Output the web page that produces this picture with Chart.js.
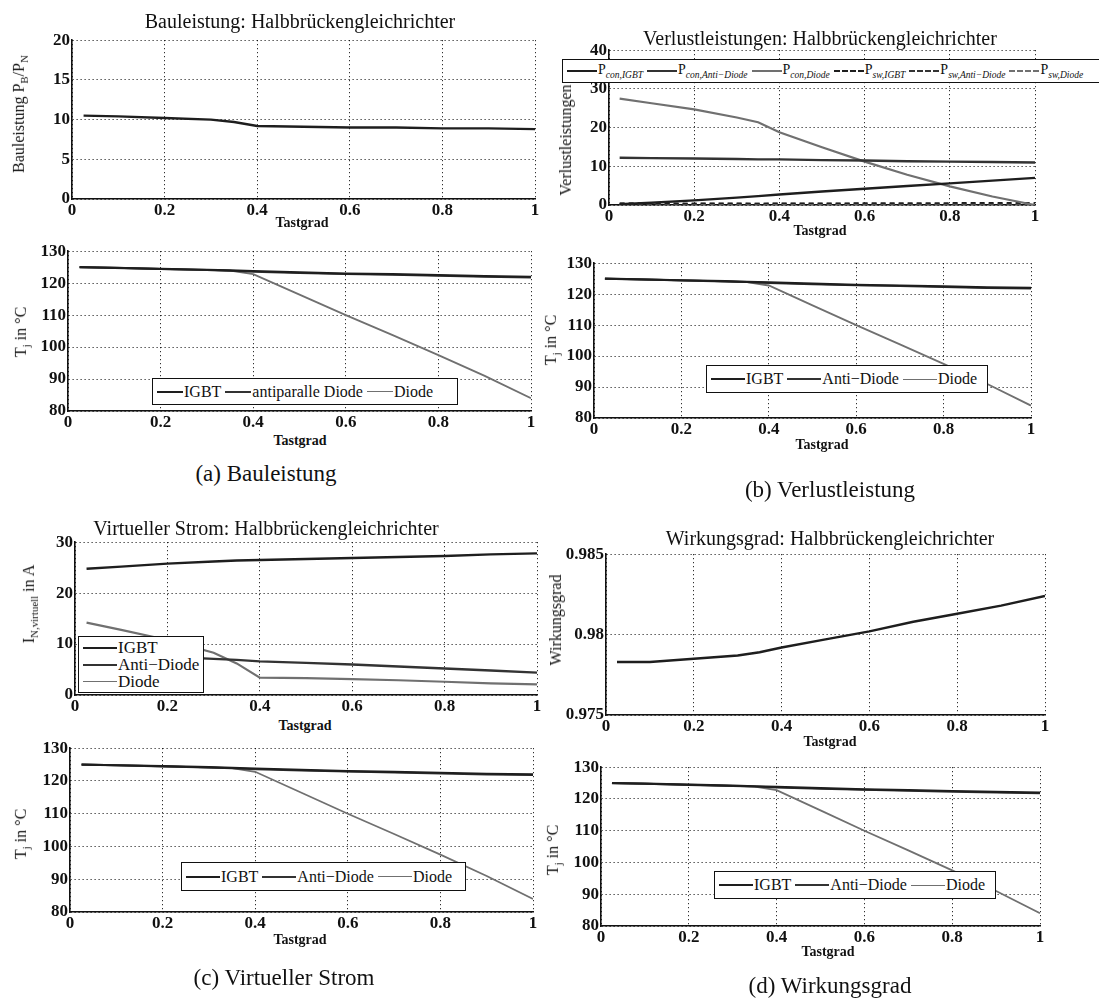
<!DOCTYPE html>
<html>
<head>
<meta charset="utf-8">
<script src="https://cdn.jsdelivr.net/npm/chart.js@4"></script>
<style>
  html, body { margin: 0; padding: 0; background: #fff; }
  body { width: 1099px; height: 1005px; position: relative; overflow: hidden; font-family: "Liberation Serif", "DejaVu Serif", serif; color: #111; }
  canvas { position: absolute; }
  .txt { position: absolute; white-space: nowrap; transform: translate(-50%, -50%); font-family: "Liberation Serif", serif; }
  .title { font-size: 20px; }
  .xlab { font-size: 14px; font-weight: bold; }
  .ylab { font-size: 16px; }
  .cap { font-size: 23px; }
  .legend { position: absolute; border: 1.5px solid #111; background: #fff; font-family: "Liberation Serif", serif; font-size: 16px; box-sizing: border-box; display: flex; align-items: center; padding: 0 4px; white-space: nowrap; }
  .legend.col { flex-direction: column; align-items: flex-start; justify-content: center; padding: 1px 4px; line-height: 17px; font-size: 17px; }
  .item { display: flex; align-items: center; margin-right: 4px; }
  .sample { display: inline-block; width: 34px; margin-right: 1px; border-top: 2px solid #222; }
  sub { font-size: 68%; }
</style>
</head>
<body>
<script>
// Tastgrad values (x axis) shared by all panels
const tastgrad = [0.025, 0.1, 0.2, 0.3, 0.35, 0.4, 0.5, 0.6, 0.7, 0.8, 0.9, 1.0];

// (a) Bauleistung P_B/P_N
const bauleistung = [10.5, 10.4, 10.2, 10.0, 9.7, 9.2, 9.1, 9.0, 9.0, 8.9, 8.9, 8.8];

// Junction temperatures in degC (same in all four lower panels)
const tjIgbt = [125, 124.8, 124.5, 124.2, 124.0, 123.8, 123.4, 123.0, 122.8, 122.5, 122.2, 122.0];
const tjAntiDiode = [125, 124.8, 124.4, 124.1, 123.9, 123.6, 123.2, 122.9, 122.6, 122.3, 122.0, 121.8];
const tjDiode = [125, 124.8, 124.5, 124.1, 123.9, 122.8, 116.4, 110.0, 103.8, 97.5, 91.0, 84.0];

// (b) Verlustleistungen
const pConIgbt = [0.2, 0.6, 1.2, 1.9, 2.3, 2.7, 3.5, 4.2, 4.9, 5.6, 6.3, 7.0];
const pConAntiDiode = [12.2, 12.1, 12.0, 11.9, 11.8, 11.8, 11.6, 11.5, 11.3, 11.2, 11.1, 11.0];
const pConDiode = [27.5, 26.3, 24.7, 22.6, 21.4, 18.8, 14.9, 11.2, 7.8, 4.8, 2.2, 0];
const pSwIgbt = [0.3, 0.3, 0.35, 0.4, 0.4, 0.45, 0.45, 0.5, 0.5, 0.55, 0.55, 0.6];
const pSwAntiDiode = [0.5, 0.5, 0.45, 0.45, 0.4, 0.4, 0.4, 0.35, 0.35, 0.3, 0.3, 0.3];
const pSwDiode = [0.1, 0.1, 0.1, 0.1, 0.1, 0.1, 0.1, 0.1, 0.1, 0.1, 0.1, 0.1];

// (c) Virtueller Strom in A
const iIgbt = [24.8, 25.2, 25.8, 26.2, 26.4, 26.5, 26.7, 26.9, 27.1, 27.3, 27.6, 27.8];
const iAntiDiode = [8.0, 7.8, 7.5, 7.1, 6.9, 6.6, 6.3, 6.0, 5.6, 5.2, 4.8, 4.4];
const iDiode = [14.2, 12.8, 10.8, 8.3, 6.2, 3.4, 3.3, 3.1, 2.9, 2.6, 2.3, 2.1];

// (d) Wirkungsgrad
const wirkungsgrad = [0.9783, 0.9783, 0.9785, 0.9787, 0.9789, 0.9792, 0.9797, 0.9802, 0.9808, 0.9813, 0.9818, 0.9824];

const DARK = '#1e1e1e';
const MID = '#333';
const LIGHT = '#707070';

const WY = 54;   // fixed y-axis width
const HX = 22;   // fixed x-axis height
const PT = 12;
const PR = 14;

// Put a text label on the page
function addText(html, x, y, cls, rotate) {
    const d = document.createElement('div');
    d.className = 'txt ' + cls;
    d.innerHTML = html;
    d.style.left = x + 'px';
    d.style.top = y + 'px';
    if (rotate) {
        d.style.transform = 'translate(-50%, -50%) rotate(-90deg)';
    }
    document.body.appendChild(d);
}

// Build one subplot so that its plot area lands on box {l, t, r, b}
function makePanel(box, series, yMin, yMax, yStep, yFmt) {
    const canvas = document.createElement('canvas');
    const w = box.r - box.l + WY + PR;
    const h = box.b - box.t + PT + HX;
    canvas.width = w;
    canvas.height = h;
    canvas.style.left = (box.l - WY) + 'px';
    canvas.style.top = (box.t - PT) + 'px';
    document.body.appendChild(canvas);

    const datasets = series.map(s => ({
        data: tastgrad.map((x, i) => ({ x: x, y: s.values[i] })),
        borderColor: s.color,
        borderWidth: s.width || 2,
        borderDash: s.dash || [],
        pointRadius: 0,
        showLine: true,
        tension: 0
    }));

    const tickFont = { family: '"Liberation Serif", serif', size: 17, weight: 'bold' };

    return new Chart(canvas, {
        type: 'scatter',
        data: { datasets: datasets },
        options: {
            responsive: false,
            animation: false,
            devicePixelRatio: 1,
            layout: { padding: { left: 0, top: PT, right: PR, bottom: 0 } },
            plugins: { legend: { display: false }, tooltip: { enabled: false } },
            scales: {
                x: {
                    type: 'linear',
                    min: 0,
                    max: 1,
                    afterFit: s => { s.height = HX; },
                    ticks: {
                        stepSize: 0.2,
                        color: '#111',
                        font: tickFont,
                        padding: 1,
                        maxRotation: 0,
                        callback: v => String(+v.toFixed(1))
                    },
                    grid: { color: '#000', lineWidth: 1, drawTicks: false },
                    border: { display: true, color: '#111', width: 1.6, dash: [1, 3] }
                },
                y: {
                    type: 'linear',
                    min: yMin,
                    max: yMax,
                    afterFit: s => { s.width = WY; },
                    ticks: {
                        stepSize: yStep,
                        color: '#111',
                        font: tickFont,
                        padding: 2,
                        callback: yFmt || (v => String(+v.toFixed(3)))
                    },
                    grid: { color: '#000', lineWidth: 1, drawTicks: false },
                    border: { display: true, color: '#111', width: 1.6, dash: [1, 3] }
                }
            }
        }
    });
}

// Legend box with line samples
function addLegend(x, y, w, h, entries, column, fontSize) {
    const d = document.createElement('div');
    d.className = 'legend' + (column ? ' col' : '');
    d.style.left = x + 'px';
    d.style.top = y + 'px';
    d.style.width = w + 'px';
    d.style.height = h + 'px';
    if (fontSize) d.style.fontSize = fontSize + 'px';
    entries.forEach(e => {
        const it = document.createElement('span');
        it.className = 'item';
        const s = document.createElement('span');
        s.className = 'sample';
        s.style.borderTop = (e.width || 2) + 'px ' + (e.style || 'solid') + ' ' + e.color;
        if (e.sampleWidth) s.style.width = e.sampleWidth + 'px';
        it.appendChild(s);
        const t = document.createElement('span');
        t.innerHTML = e.label;
        it.appendChild(t);
        d.appendChild(it);
    });
    document.body.appendChild(d);
}

function tjSeries() {
    return [
        { values: tjIgbt, color: DARK, width: 2.2 },
        { values: tjAntiDiode, color: MID, width: 2 },
        { values: tjDiode, color: LIGHT, width: 1.8 }
    ];
}

const tjEntries = (anti, sw) => [
    { label: 'IGBT', color: DARK, sampleWidth: sw },
    { label: anti, color: MID, sampleWidth: sw },
    { label: 'Diode', color: LIGHT, width: 1.5, sampleWidth: sw }
];

// ---------- (a) Bauleistung ----------
makePanel({ l: 72, t: 40, r: 535, b: 199 }, [{ values: bauleistung, color: DARK, width: 2.4 }], 0, 20, 5);
addText('Bauleistung: Halbbrückengleichrichter', 300, 21, 'title');
addText('Bauleistung P<sub>B</sub>/P<sub>N</sub>', 20, 114, 'ylab', true);
addText('Tastgrad', 302, 223, 'xlab');

makePanel({ l: 68, t: 251, r: 531, b: 411 }, tjSeries(), 80, 130, 10);
addText('T<sub>j</sub> in °C', 22, 332, 'ylab', true);
addText('Tastgrad', 300, 441, 'xlab');
addLegend(152, 378, 306, 27, tjEntries('antiparalle Diode', 26));
addText('(a) Bauleistung', 266, 474, 'cap');

// ---------- (b) Verlustleistung ----------
makePanel({ l: 609, t: 50, r: 1035, b: 205 }, [
    { values: pConIgbt, color: DARK, width: 2.4 },
    { values: pConAntiDiode, color: MID, width: 2.4 },
    { values: pConDiode, color: LIGHT, width: 2.2 },
    { values: pSwIgbt, color: DARK, width: 1.5, dash: [5, 4] },
    { values: pSwAntiDiode, color: MID, width: 1.5, dash: [5, 4] },
    { values: pSwDiode, color: LIGHT, width: 1.5, dash: [5, 4] }
], 0, 40, 10);
addText('Verlustleistungen: Halbbrückengleichrichter', 820, 38, 'title');
addText('Verlustleistungen', 566, 140, 'ylab', true);
addText('Tastgrad', 820, 231, 'xlab');
addLegend(562, 59, 560, 24, [
    { label: 'P<sub><i>con,IGBT</i></sub>', color: DARK, sampleWidth: 30 },
    { label: 'P<sub><i>con,Anti−Diode</i></sub>', color: MID, sampleWidth: 30 },
    { label: 'P<sub><i>con,Diode</i></sub>', color: LIGHT, sampleWidth: 30 },
    { label: 'P<sub><i>sw,IGBT</i></sub>', color: DARK, style: 'dashed', sampleWidth: 30 },
    { label: 'P<sub><i>sw,Anti−Diode</i></sub>', color: MID, style: 'dashed', sampleWidth: 30 },
    { label: 'P<sub><i>sw,Diode</i></sub>', color: LIGHT, style: 'dashed', sampleWidth: 30 }
], false, 14);

makePanel({ l: 594, t: 263, r: 1031, b: 418 }, tjSeries(), 80, 130, 10);
addText('T<sub>j</sub> in °C', 552, 340, 'ylab', true);
addText('Tastgrad', 822, 445, 'xlab');
addLegend(706, 365, 282, 28, tjEntries('Anti−Diode', 34));
addText('(b) Verlustleistung', 830, 490, 'cap');

// ---------- (c) Virtueller Strom ----------
makePanel({ l: 75, t: 542, r: 537, b: 695 }, [
    { values: iIgbt, color: DARK, width: 2.4 },
    { values: iAntiDiode, color: MID, width: 2.4 },
    { values: iDiode, color: LIGHT, width: 2.2 }
], 0, 30, 10);
addText('Virtueller Strom: Halbbrückengleichrichter', 266, 528, 'title');
addText('I<sub>N,virtuell</sub> in A', 30, 604, 'ylab', true);
addText('Tastgrad', 305, 726, 'xlab');
addLegend(78, 636, 126, 57, tjEntries('Anti−Diode', 34), true);

makePanel({ l: 70, t: 748, r: 533, b: 912 }, tjSeries(), 80, 130, 10);
addText('T<sub>j</sub> in °C', 22, 834, 'ylab', true);
addText('Tastgrad', 300, 940, 'xlab');
addLegend(181, 862, 285, 29, tjEntries('Anti−Diode', 34));
addText('(c) Virtueller Strom', 284, 978, 'cap');

// ---------- (d) Wirkungsgrad ----------
makePanel({ l: 606, t: 554, r: 1045, b: 715 }, [{ values: wirkungsgrad, color: DARK, width: 2.4 }], 0.975, 0.985, 0.005);
addText('Wirkungsgrad: Halbbrückengleichrichter', 830, 538, 'title');
addText('Wirkungsgrad', 556, 620, 'ylab', true);
addText('Tastgrad', 830, 742, 'xlab');

makePanel({ l: 601, t: 767, r: 1040, b: 926 }, tjSeries(), 80, 130, 10);
addText('T<sub>j</sub> in °C', 554, 850, 'ylab', true);
addText('Tastgrad', 828, 952, 'xlab');
addLegend(714, 871, 282, 28, tjEntries('Anti−Diode', 34));
addText('(d) Wirkungsgrad', 830, 986, 'cap');
</script>
</body>
</html>
